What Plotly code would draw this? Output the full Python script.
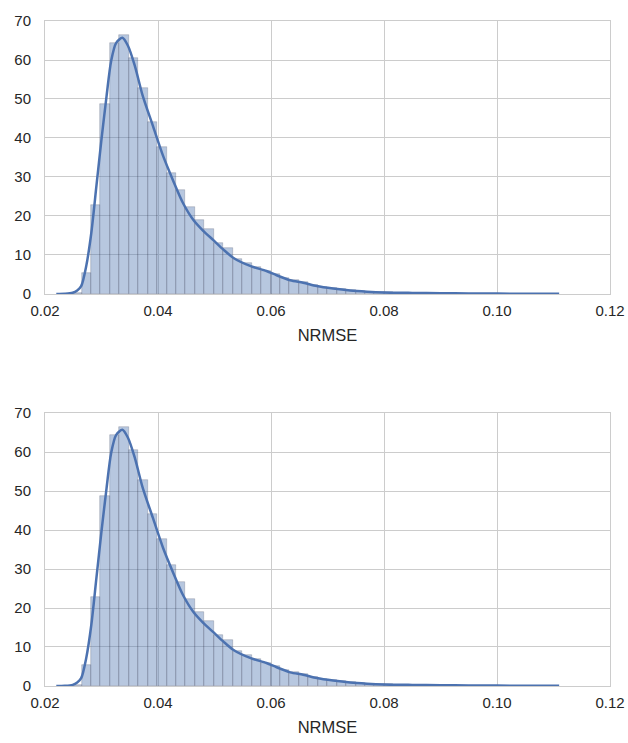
import plotly.graph_objects as go
from plotly.subplots import make_subplots

# Histogram: 50 bins starting at bin_start, width bin_width
bin_start = 0.0248
bin_width = 0.001672
hist_heights = [0.3, 5.5, 22.7, 48.8, 64.4, 66.5, 60.6, 52.9, 44.1, 37.7,
                31.1, 26.7, 22.4, 19.0, 16.6, 13.1, 11.9, 9.0, 7.9, 6.8,
                5.9, 5.0, 4.0, 3.7, 3.0, 2.2, 1.9, 1.5, 1.2, 0.9,
                0.7, 0.55, 0.45, 0.4, 0.3, 0.28, 0.22, 0.2, 0.17, 0.15,
                0.12, 0.1, 0.1, 0.08, 0.07, 0.06, 0.05, 0.05, 0.04, 0.03]
bin_centers = [bin_start + bin_width * (i + 0.5) for i in range(len(hist_heights))]

# KDE curve points
kde_x = [0.0220, 0.0235, 0.0249, 0.0257, 0.0264, 0.0273, 0.0282, 0.0291, 0.0300,
         0.0309, 0.0317, 0.0326, 0.0337, 0.0347, 0.0359, 0.0373, 0.0391, 0.0409,
         0.0427, 0.0444, 0.0462, 0.0480, 0.0498, 0.0515, 0.0533, 0.0563, 0.0592,
         0.0610, 0.0634, 0.0657, 0.0681, 0.0710, 0.0740, 0.0770, 0.0799, 0.0850,
         0.0900, 0.0950, 0.1000, 0.1050, 0.1110]
kde_y = [0.0, 0.05, 0.3, 0.9, 2.0, 7.2, 15.7, 27.7, 39.7,
         50.8, 59.7, 64.4, 65.7, 63.6, 58.5, 50.8, 43.1, 35.4,
         29.0, 23.4, 19.1, 16.2, 13.8, 11.5, 9.3, 7.2, 5.9,
         4.8, 3.5, 2.9, 2.05, 1.4, 0.9, 0.6, 0.4, 0.28,
         0.2, 0.14, 0.1, 0.07, 0.04]

x_ticks = [0.02, 0.04, 0.06, 0.08, 0.10, 0.12]
x_tick_labels = ["0.02", "0.04", "0.06", "0.08", "0.10", "0.12"]
y_ticks = [0, 10, 20, 30, 40, 50, 60, 70]
x_title = "NRMSE"

BLUE = "#4C72B0"
TXT = "#262626"
GRID = "#cccccc"
FONT = "Liberation Sans, Arial, sans-serif"

fig = make_subplots(rows=2, cols=1, vertical_spacing=0.179)

for r in (1, 2):
    fig.add_trace(go.Bar(
        x=bin_centers, y=hist_heights, width=bin_width,
        marker=dict(color="rgba(76,114,176,0.4)",
                    line=dict(color="rgba(50,50,70,0.35)", width=0.6)),
        showlegend=False, hoverinfo="skip"), row=r, col=1)
    fig.add_trace(go.Scatter(
        x=kde_x, y=kde_y, mode="lines",
        line=dict(color=BLUE, width=2.5, shape="spline", smoothing=0.8),
        showlegend=False), row=r, col=1)
    fig.update_xaxes(range=[0.02, 0.12], tickvals=x_ticks, ticktext=x_tick_labels,
                     showgrid=True, gridcolor=GRID, gridwidth=1,
                     showline=True, linecolor=GRID, linewidth=1, mirror=True,
                     zeroline=False, ticks="", ticklen=0, automargin=False,
                     ticklabelstandoff=3,
                     tickfont=dict(family=FONT, size=15, color=TXT),
                     title=dict(text=x_title, standoff=11,
                                font=dict(family=FONT, size=16.5, color=TXT)),
                     row=r, col=1)
    fig.update_yaxes(range=[0, 70], tickvals=y_ticks,
                     showgrid=True, gridcolor=GRID, gridwidth=1,
                     showline=True, linecolor=GRID, linewidth=1, mirror=True,
                     zeroline=False, ticks="", ticklen=0, automargin=False,
                     ticklabelstandoff=10,
                     tickfont=dict(family=FONT, size=15, color=TXT),
                     row=r, col=1)

fig.update_layout(
    width=628, height=743,
    margin=dict(l=45, r=18, t=21, b=57),
    paper_bgcolor="white", plot_bgcolor="white",
    bargap=0,
)
fig.update_yaxes(domain=[0.5895, 1.0], row=1, col=1)
fig.update_yaxes(domain=[0.0, 0.4105], row=2, col=1)

fig.write_html("out.html",
               config={"displayModeBar": False},
               post_script="document.body.style.margin='0';document.body.style.overflow='hidden';")
